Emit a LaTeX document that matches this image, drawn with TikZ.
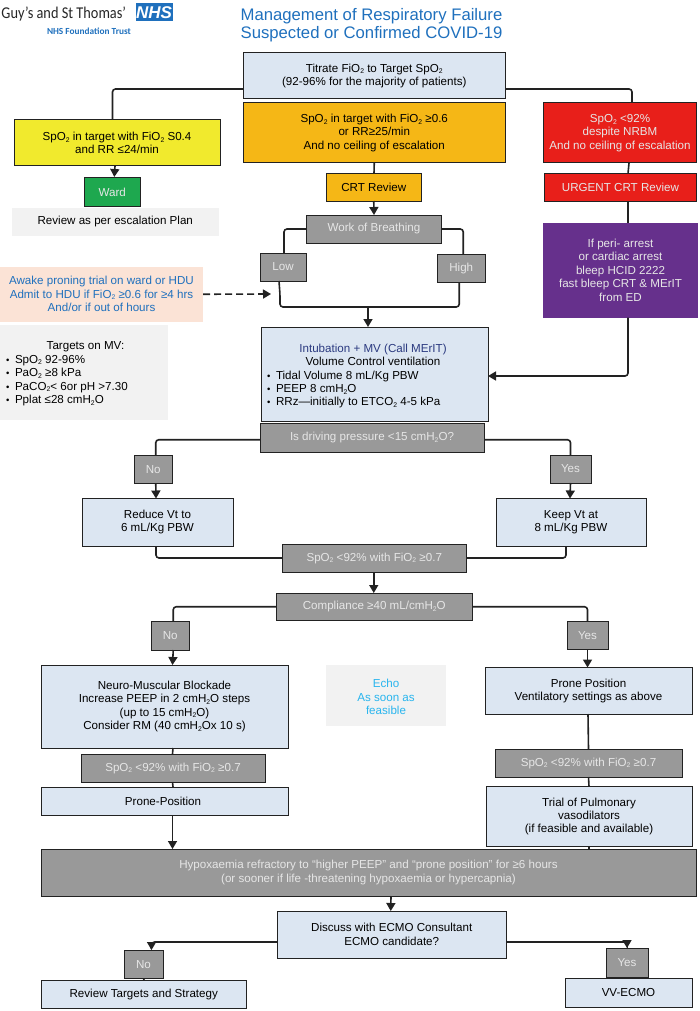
\documentclass[tikz,border=0pt]{standalone}
\usepackage{fontspec}
\setmainfont{Liberation Sans}
\newfontfamily\logofont{Carlito}
\usetikzlibrary{arrows.meta}
\definecolor{bluefill}{HTML}{DCE6F2}
\definecolor{greyfill}{HTML}{999999}
\definecolor{yellowfill}{HTML}{F1EA2D}
\definecolor{orangefill}{HTML}{F5B716}
\definecolor{redfill}{HTML}{E81F1A}
\definecolor{greenfill}{HTML}{1EA84F}
\definecolor{purplefill}{HTML}{66308C}
\definecolor{peachfill}{HTML}{FBE3D6}
\definecolor{palefill}{HTML}{F2F2F2}
\definecolor{titleblue}{HTML}{1F70BD}
\definecolor{cyantext}{HTML}{29B5EE}
\definecolor{navytext}{HTML}{2B3A80}
\definecolor{inkline}{HTML}{222222}
\definecolor{softwhite}{HTML}{E6E6E6}
\newcommand{\two}{\raisebox{-1.6pt}{\fontsize{6.8}{7}\selectfont 2}}
\newcommand{\bul}{\makebox[9pt][l]{\fontsize{9.5}{10}\selectfont\textbullet}}
\newcommand{\bx}[7]{\node[#6,minimum width={(#4-#2)*1pt},minimum height={(#5-#3)*1pt}] (#1) at ({(#2+#4)/2},{(#3+#5)/2}) {#7};}
\tikzset{
 base/.style={rectangle,inner sep=0pt,outer sep=0pt,align=center,font=\fontsize{11.6}{13.4}\selectfont},
 edged/.style={base,draw=inkline,line width=1pt},
 bluebox/.style={edged,fill=bluefill,text=black},
 greybox/.style={edged,fill=greyfill,text=softwhite},
 yellowbox/.style={edged,fill=yellowfill,text=black},
 orangebox/.style={edged,fill=orangefill,text=black},
 redbox/.style={edged,fill=redfill,text=softwhite},
 greenbox/.style={edged,fill=greenfill,text=softwhite},
 purplebox/.style={base,fill=purplefill,text=softwhite},
 peachbox/.style={base,fill=peachfill,text=titleblue},
 palebox/.style={base,fill=palefill,text=black},
 link/.style={draw=inkline,line width=1.6pt,rounded corners=3pt},
 flow/.style={link,-{Triangle[length=8pt,width=9pt]}},
 dashflow/.style={draw=inkline,line width=1.6pt,dash pattern=on 7pt off 4pt,-{Triangle[length=8pt,width=9pt]}}
}
\begin{document}
\begin{tikzpicture}[x=1pt,y=-1pt]
\useasboundingbox (0,0) rectangle (700,1011);
% logo and title
\node[base,anchor=west,font=\logofont\fontsize{16.5}{18}\selectfont,text=black!85] (trust) at (1.5,14) {\scalebox{.87}[1]{Guy’s and St Thomas’}};
\bx{nhs}{135.5}{3.5}{172.5}{21.5}{base,fill=titleblue,text=white,font=\bfseries\itshape\fontsize{17}{18}\selectfont}{NHS}
\node[base,anchor=west,font=\logofont\bfseries\fontsize{9.3}{11}\selectfont,text=titleblue] (ft) at (47,31) {NHS Foundation Trust};
\node[base,font=\fontsize{16.7}{18.2}\selectfont,text=titleblue] (title) at (371.5,25.5) {Management of Respiratory Failure\\Suspected or Confirmed COVID-19};
% top row
\bx{titrate}{243.5}{53}{505}{99}{bluebox}{Titrate FiO\two{} to Target SpO\two\\(92-96\% for the majority of patients)}
\bx{yellow}{14}{120}{220}{166}{yellowbox}{SpO\two{} in target with FiO\two{} S0.4\\and RR ≤24/min}
\bx{ward}{84.5}{178}{140}{206}{greenbox}{Ward}
\bx{esc}{12}{208}{218.5}{235.5}{palebox}{Review as per escalation Plan}
\bx{orange}{243.5}{103}{505}{163}{orangebox}{SpO\two{} in target with FiO\two{} ≥0.6\\or RR≥25/min\\And no ceiling of escalation}
\bx{crt}{326}{173.5}{421.5}{201}{orangebox}{CRT Review}
\bx{red}{543.5}{103}{696.5}{163}{redbox}{SpO\two{} \textless92\%\\despite NRBM\\And no ceiling of escalation}
\bx{urgent}{544.5}{173.5}{696.5}{201}{redbox}{URGENT CRT Review}
\bx{purple}{543}{223}{698}{317.5}{purplebox}{If peri- arrest\\or cardiac arrest\\bleep HCID 2222\\fast bleep CRT \& MErIT\\from ED}
% work of breathing
\bx{wob}{306.5}{215}{441.5}{243}{greybox}{Work of Breathing}
\bx{low}{260}{253}{306}{281}{greybox}{Low}
\bx{high}{437}{254}{485.5}{282.5}{greybox}{High}
\bx{peach}{0}{266.5}{203}{322}{peachbox}{Awake proning trial on ward or HDU\\Admit to HDU if FiO\two{} ≥0.6 for ≥4 hrs\\And/or if out of hours}
\bx{targets}{0}{324.5}{168}{419.5}{palebox}{\parbox{156pt}{\vspace*{4pt}\fontsize{11.6}{13.4}\selectfont\raggedright\makebox[159pt][c]{Targets on MV:}\\\bul SpO\two{} 92-96\%\\\bul PaO\two{} ≥8 kPa\\\bul PaCO\two< 6or pH \textgreater7.30\\\bul Pplat ≤28 cmH\two O}}
\bx{intub}{261}{327}{488}{421}{bluebox}{\parbox{215pt}{\vspace*{4pt}\fontsize{11.6}{13.4}\selectfont\raggedright\makebox[212pt][c]{\textcolor{navytext}{Intubation + MV (Call MErIT)}}\\\makebox[212pt][c]{Volume Control ventilation}\\\bul Tidal Volume 8 mL/Kg PBW\\\bul PEEP 8 cmH\two O\\\bul RRz—initially to ETCO\two{} 4-5 kPa}}
\bx{driving}{260}{423.5}{484}{452}{greybox}{Is driving pressure \textless15 cmH\two O?}
\bx{no1}{134}{455}{172.5}{483.5}{greybox}{No}
\bx{yes1}{550}{455}{591}{483}{greybox}{Yes}
\bx{reduce}{82}{498.5}{233}{546}{bluebox}{Reduce Vt to\\6 mL/Kg PBW}
\bx{keep}{496}{498.5}{646}{546.5}{bluebox}{Keep Vt at\\8 mL/Kg PBW}
\bx{spoa}{282}{544}{466.5}{572}{greybox}{SpO\two{} \textless92\% with FiO\two{} ≥0.7}
\bx{comp}{276}{593}{472.5}{620.5}{greybox}{Compliance ≥40 mL/cmH\two O}
\bx{no2}{151}{621.5}{189.5}{650}{greybox}{No}
\bx{yes2}{567}{621}{608}{649.5}{greybox}{Yes}
\bx{neuro}{41}{665}{288}{748}{bluebox}{Neuro-Muscular Blockade\\Increase PEEP in 2 cmH\two O steps\\(up to 15 cmH\two O)\\Consider RM (40 cmH\two Ox 10 s)}
\bx{echo}{326}{665}{446}{726}{palebox,text=cyantext}{\rule{0pt}{11.5pt}Echo\\As soon as\\feasible}
\bx{prone}{485}{667.5}{692}{714}{bluebox}{Prone Position\\Ventilatory settings as above}
\bx{spob}{81}{754}{265}{782}{greybox}{SpO\two{} \textless92\% with FiO\two{} ≥0.7}
\bx{pronepos}{41}{787}{288}{815}{bluebox}{Prone-Position\hspace*{3pt}}
\bx{spoc}{495}{749}{682}{777}{greybox}{SpO\two{} \textless92\% with FiO\two{} ≥0.7}
\bx{trial}{486}{786.5}{692}{846.5}{bluebox}{Trial of Pulmonary\\vasodilators\\(if feasible and available)}
\bx{hypox}{41}{849}{696}{896}{greybox}{Hypoxaemia refractory to “higher PEEP” and “prone position” for ≥6 hours\\(or sooner if life -threatening hypoxaemia or hypercapnia)}
\bx{discuss}{277.5}{911}{506}{958}{bluebox}{Discuss with ECMO Consultant\\ECMO candidate?}
\bx{no3}{124}{950}{163}{978.5}{greybox}{No}
\bx{rts}{41}{980}{246.5}{1008.5}{bluebox}{Review Targets and Strategy}
\bx{yes3}{606}{948}{648}{977}{greybox}{Yes}
\bx{vv}{565}{978}{692}{1007.5}{bluebox}{VV-ECMO}
% connectors
\draw[link] ([yshift=-13pt]titrate.west) -| ([xshift=-4.5pt]yellow.north);
\draw[link] ([yshift=-13pt]titrate.east) -| ([xshift=12pt]red.north);
\draw[flow] ([xshift=-2pt]yellow.south) -- ([xshift=2pt,yshift=1pt]ward.north);
\draw[link] (orange.south) -- ([xshift=.25pt]crt.north);
\draw[flow] (crt.south) -- (wob.north);
\draw[link] (wob.west) -| ([xshift=1pt]low.north);
\draw[link] (wob.east) -| ([xshift=2pt]high.north);
\draw[link] ([xshift=-4pt]low.south) -- ++(1,14) |- ([yshift=20pt]intub.north) -| ([xshift=-2pt]high.south);
\draw[flow] ([xshift=-6.5pt,yshift=20pt]intub.north) -- ([xshift=-6.5pt]intub.north);
\draw[dashflow] (peach.east) -- ([xshift=-12pt,yshift=-13pt]low.south);
\draw[link] ([xshift=9pt]red.south) -- ([xshift=7.5pt]urgent.north);
\draw[link] ([xshift=7.5pt]urgent.south) -- ([xshift=7.5pt]purple.north);
\draw[flow] ([xshift=7.5pt]purple.south) |- ([yshift=-2pt]intub.east);
\draw[link] ([yshift=-2pt]driving.west) -| ([xshift=2.5pt]no1.north);
\draw[link] ([yshift=-2pt]driving.east) -| (yes1.north);
\draw[flow] ([xshift=2.5pt]no1.south) -- ([xshift=-1.5pt]reduce.north);
\draw[flow] (yes1.south) -- ([xshift=-1pt]keep.north);
\draw[link] ([xshift=-1.5pt]reduce.south) |- (spoa.west);
\draw[link] ([xshift=-5pt]keep.south) |- (spoa.east);
\draw[flow] ([xshift=-.5pt]spoa.south) -- ([xshift=-.5pt]comp.north);
\draw[link] (comp.west) -| ([xshift=3pt]no2.north);
\draw[link] (comp.east) -| (yes2.north);
\draw[flow] ([xshift=3pt]no2.south) -- ([xshift=8pt]neuro.north);
\draw[flow] (yes2.south) -- ([xshift=-1pt]prone.north);
\draw[link] ([xshift=8.5pt]neuro.south) -- ([xshift=-.5pt]spob.north);
\draw[link] ([xshift=-.5pt]spob.south) -- ([xshift=8.5pt]pronepos.north);
\draw[flow] ([xshift=8pt]pronepos.south) -- ([xshift=-196pt]hypox.north);
\draw[link] ([xshift=-.5pt]prone.south) -- (spoc.north);
\draw[link] (spoc.south) -- (trial.north);
\draw[link] (trial.south) -- ([xshift=220.5pt]hypox.north);
\draw[flow] ([xshift=22.5pt]hypox.south) -- ([xshift=-1pt]discuss.north);
\draw[flow] ([yshift=-7.5pt]discuss.west) -| ([xshift=8pt]no3.north);
\draw[flow] ([yshift=-7.5pt]discuss.east) -| (yes3.north);
\draw[link] (no3.south) -- ([xshift=.25pt]rts.north);
\draw[link] (yes3.south) -- ([xshift=-1.5pt]vv.north);
\end{tikzpicture}
\end{document}
